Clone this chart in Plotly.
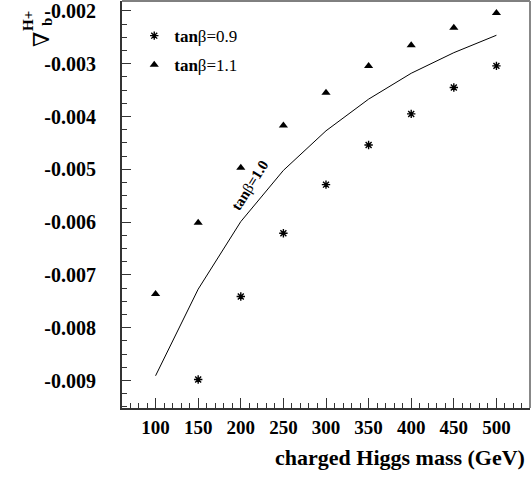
import plotly.graph_objects as go

mass = [100, 150, 200, 250, 300, 350, 400, 450, 500]
tb10 = [-0.00891, -0.00727, -0.00599, -0.00502, -0.00427, -0.00367, -0.00318, -0.00279, -0.00246]
mass09 = [150, 200, 250, 300, 350, 400, 450, 500]
tb09 = [-0.00898, -0.00741, -0.00621, -0.00529, -0.00454, -0.00395, -0.00345, -0.00304]
tb11 = [-0.00736, -0.00601, -0.00497, -0.00417, -0.00355, -0.00304, -0.00265, -0.00232, -0.00204]

ytickvals = [-0.009, -0.008, -0.007, -0.006, -0.005, -0.004, -0.003, -0.002]
yticktext = ["-0.009", "-0.008", "-0.007", "-0.006", "-0.005", "-0.004", "-0.003", "-0.002"]
xtickvals = [100, 150, 200, 250, 300, 350, 400, 450, 500]

SERIF = "Liberation Serif"

fig = go.Figure()
fig.add_trace(go.Scatter(x=mass, y=tb10, mode="lines", line=dict(color="black", width=1),
                         showlegend=False))
fig.add_trace(go.Scatter(x=mass09, y=tb09, mode="markers", name="<b>tan</b>β=0.9",
                         marker=dict(symbol="asterisk-open", size=7, color="black",
                                     line=dict(color="black", width=1.4)),
                         legendgroup="a"))
fig.add_trace(go.Scatter(x=mass, y=tb11, mode="markers", name="<b>tan</b>β=1.1",
                         marker=dict(symbol="triangle-up", size=8, color="black"),
                         legendgroup="b"))

fig.update_layout(
    width=532, height=489,
    margin=dict(l=122, r=2, t=1, b=81),
    paper_bgcolor="white", plot_bgcolor="white",
    showlegend=True,
    legend=dict(x=0.03, y=0.958, xanchor="left", yanchor="top", bgcolor="rgba(0,0,0,0)",
                font=dict(family=SERIF, size=17, color="black"),
                tracegroupgap=4, traceorder="grouped"),
    xaxis=dict(range=[60.6, 539.4], showgrid=False, zeroline=False,
               showline=True, linecolor="#333", linewidth=2,
               tickmode="array", tickvals=xtickvals, ticks="inside", ticklen=10,
               tickcolor="#333", tickwidth=1, ticklabeloverflow="allow",
               ticklabelstandoff=1,
               tickfont=dict(family=SERIF, size=19, color="black", weight="bold"),
               minor=dict(dtick=10, tick0=0, ticks="inside", ticklen=5, tickcolor="#333",
                          showgrid=False)),
    yaxis=dict(range=[-0.009521, -0.001811], showgrid=False, zeroline=False,
               showline=True, linecolor="#333", linewidth=2,
               tickmode="array", tickvals=ytickvals, ticktext=yticktext,
               ticks="inside", ticklen=9, tickcolor="#333", tickwidth=1,
               ticklabelstandoff=20, ticklabeloverflow="allow",
               tickfont=dict(family=SERIF, size=20, color="black", weight="bold"),
               minor=dict(dtick=0.00025, tick0=0, ticks="inside", ticklen=5, tickcolor="#333",
                          showgrid=False)),
    shapes=[
        dict(type="line", xref="paper", yref="paper", x0=0, x1=1, y0=1, y1=1,
             line=dict(color="black", width=1)),
        dict(type="line", xref="paper", yref="paper", x0=1, x1=1, y0=0, y1=1,
             line=dict(color="#888", width=2)),
    ],
    annotations=[
        dict(text="<b>tan</b>β<b>=1.0</b>", x=211, y=-0.0053, xref="x", yref="y",
             showarrow=False, textangle=-58,
             font=dict(family=SERIF, size=15, color="black")),
        dict(text="<b>charged Higgs mass (GeV)</b>", x=527, y=489 - 472, xref="paper", yref="paper",
             showarrow=False, xanchor="right", yanchor="bottom",
             font=dict(family=SERIF, size=22, color="black")),
        dict(text="∇", x=27, y=30, showarrow=False, textangle=-90,
             font=dict(family="DejaVu Serif", size=22, color="black")),
        dict(text="<b>H+</b>", x=18, y=9, showarrow=False, textangle=-90,
             font=dict(family=SERIF, size=15, color="black")),
        dict(text="<b>b</b>", x=37, y=16, showarrow=False, textangle=-90,
             font=dict(family=SERIF, size=15, color="black")),
    ],
)

# convert pixel-positioned annotations into paper coordinates
pl, pr, pt, pb = 122, 2, 1, 81
pw, ph = 532 - pl - pr, 489 - pt - pb
new_ann = []
for a in fig.layout.annotations:
    a = a.to_plotly_json()
    if a.get("xref") is None:
        a["xref"] = "paper"; a["yref"] = "paper"
        a["x"] = (a["x"] - pl) / pw
        a["y"] = 1 - (a["y"] - pt) / ph
    elif a["xref"] == "paper" and a.get("xanchor") == "right":
        a["x"] = (a["x"] - pl) / pw
        a["y"] = (489 - 472 - pb) / ph
    new_ann.append(a)
fig.layout.annotations = new_ann

fig.write_html("out.html", config={"displayModeBar": False},
               post_script="document.body.style.margin='0';")
